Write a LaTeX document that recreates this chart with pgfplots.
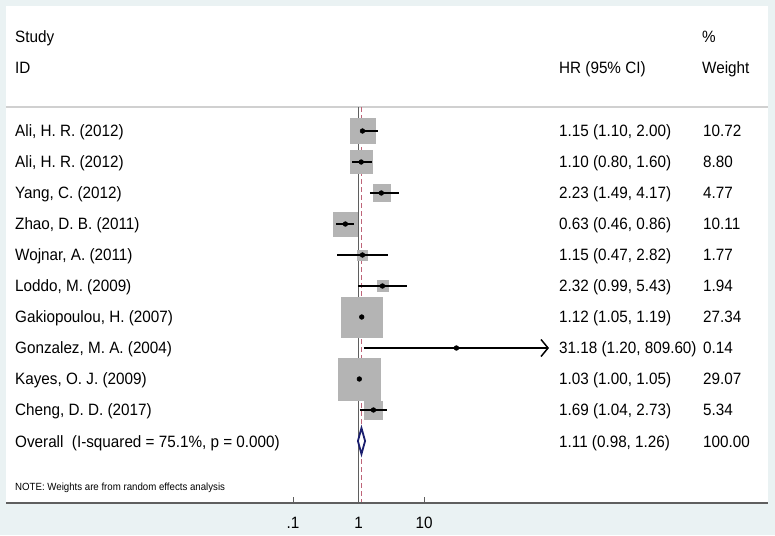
\documentclass[border=0pt]{standalone}
\usepackage{pgfplots}
\pgfplotsset{compat=1.18}
\usepackage{pgfplotstable}
\usepackage{fontspec}
\setmainfont{Liberation Sans}[FakeStretch=0.93]
\usetikzlibrary{arrows.meta}
\definecolor{bgblue}{RGB}{234,242,243}
\definecolor{boxgray}{RGB}{180,180,180}
\definecolor{refgray}{RGB}{95,95,95}
\definecolor{dashred}{RGB}{190,100,120}
\definecolor{navy}{RGB}{26,30,110}
\definecolor{sepgray}{RGB}{208,208,208}
\newcommand{\tf}{\fontsize{16.4}{19}\selectfont}

\pgfplotstableread{
i hr lo hi w
1 1.15 1.10 2.00 10.72
2 1.10 0.80 1.60 8.80
3 2.23 1.49 4.17 4.77
4 0.63 0.46 0.86 10.11
5 1.15 0.47 2.82 1.77
6 2.32 0.99 5.43 1.94
7 1.12 1.05 1.19 27.34
8 31.18 1.20 809.60 0.14
9 1.03 1.00 1.05 29.07
10 1.69 1.04 2.73 5.34
}\studies

\pgfplotstableread{
x y
1.10 1
2.00 1
nan nan
0.80 2
1.60 2
nan nan
1.49 3
4.17 3
nan nan
0.46 4
0.86 4
nan nan
0.47 5
2.82 5
nan nan
0.99 6
5.43 6
nan nan
1.05 7
1.19 7
nan nan
1.00 9
1.05 9
nan nan
1.04 10
2.73 10
}\cis

\begin{document}
\begin{tikzpicture}[x=1pt,y=1pt]
% background
\fill[bgblue] (0,0) rectangle (775,535);
\fill[white] (6,32) rectangle (768,529);
\draw[sepgray, line width=1.3pt] (6,428) -- (768,428);

\begin{axis}[
  at={(293pt,32pt)}, anchor=south west,
  scale only axis, width=262pt, height=396pt,
  xmode=log, xmin=0.1, xmax=1000,
  ymin=0.2258, ymax=13, y dir=reverse,
  axis y line=none, axis x line=bottom,
  x axis line style={-, draw=refgray, line width=1.3pt},
  xtick={0.1,1,10}, xticklabels={.1,1,10},
  xminorticks=false,
  tick align=inside, major tick length=6pt,
  every tick/.style={refgray, line width=1pt},
  xticklabel style={font=\tf, yshift=-10.5pt},
  clip=false, clip marker paths=true,
]
% reference lines
\addplot[refgray, line width=1.2pt] coordinates {(1,0.2258) (1,13)};
\addplot[dashred, line width=1.3pt, dash pattern=on 5pt off 3pt] coordinates {(1.11,0.2258) (1.11,13)};
% weight boxes
\addplot[scatter, only marks, mark=square*, point meta=explicit,
  scatter/use mapped color={draw=boxgray, fill=boxgray},
  line width=0.4pt,
  visualization depends on={3.85*sqrt(\thisrow{w}) \as \msz},
  scatter/@pre marker code/.append style={/tikz/mark size=\msz}]
  table[x=hr, y=i, meta=w]{\studies};
% confidence intervals
\addplot[black, line width=1.7pt, unbounded coords=jump] table[x=x, y=y]{\cis};
\addplot[black, line width=1.7pt, -{Straight Barb[length=7pt, width=17pt, line width=1.5pt]}] coordinates {(1.20,8) (809.60,8)};
% point estimates
\addplot[only marks, mark=*, mark size=2.4pt, black] table[x=hr, y=i]{\studies};
% overall diamond
\addplot[draw=navy, fill=white, line width=1.8pt] coordinates {(0.98,11) (1.11,10.58) (1.26,11) (1.11,11.42)} -- cycle;
\end{axis}

\draw[refgray, line width=1.3pt] (6,32) -- (768,32);

\begin{scope}[every node/.style={anchor=base west, inner sep=0pt, font=\tf}]
\node at (15,492) {Study};
\node at (15,461) {ID};
\node at (559,461) {HR (95\% CI)};
\node at (702,492) {\%};
\node at (702,461) {Weight};

\node at (15,398) {Ali, H. R. (2012)};
\node at (15,367) {Ali, H. R. (2012)};
\node at (15,336) {Yang, C. (2012)};
\node at (15,305) {Zhao, D. B. (2011)};
\node at (15,274) {Wojnar, A. (2011)};
\node at (15,243) {Loddo, M. (2009)};
\node at (15,212) {Gakiopoulou, H. (2007)};
\node at (15,181) {Gonzalez, M. A. (2004)};
\node at (15,150) {Kayes, O. J. (2009)};
\node at (15,119) {Cheng, D. D. (2017)};
\node at (15,88) {Overall\ \ (I-squared = 75.1\%, p = 0.000)};

\node at (559,398) {1.15 (1.10, 2.00)};
\node at (559,367) {1.10 (0.80, 1.60)};
\node at (559,336) {2.23 (1.49, 4.17)};
\node at (559,305) {0.63 (0.46, 0.86)};
\node at (559,274) {1.15 (0.47, 2.82)};
\node at (559,243) {2.32 (0.99, 5.43)};
\node at (559,212) {1.12 (1.05, 1.19)};
\node at (559,181) {31.18 (1.20, 809.60)};
\node at (559,150) {1.03 (1.00, 1.05)};
\node at (559,119) {1.69 (1.04, 2.73)};
\node at (559,88) {1.11 (0.98, 1.26)};

\node at (703,398) {10.72};
\node at (703,367) {8.80};
\node at (703,336) {4.77};
\node at (703,305) {10.11};
\node at (703,274) {1.77};
\node at (703,243) {1.94};
\node at (703,212) {27.34};
\node at (703,181) {0.14};
\node at (703,150) {29.07};
\node at (703,119) {5.34};
\node at (703,88) {100.00};

\node[font=\fontsize{10.4}{12}\selectfont] at (15,45) {NOTE: Weights are from random effects analysis};
\end{scope}
\end{tikzpicture}
\end{document}
